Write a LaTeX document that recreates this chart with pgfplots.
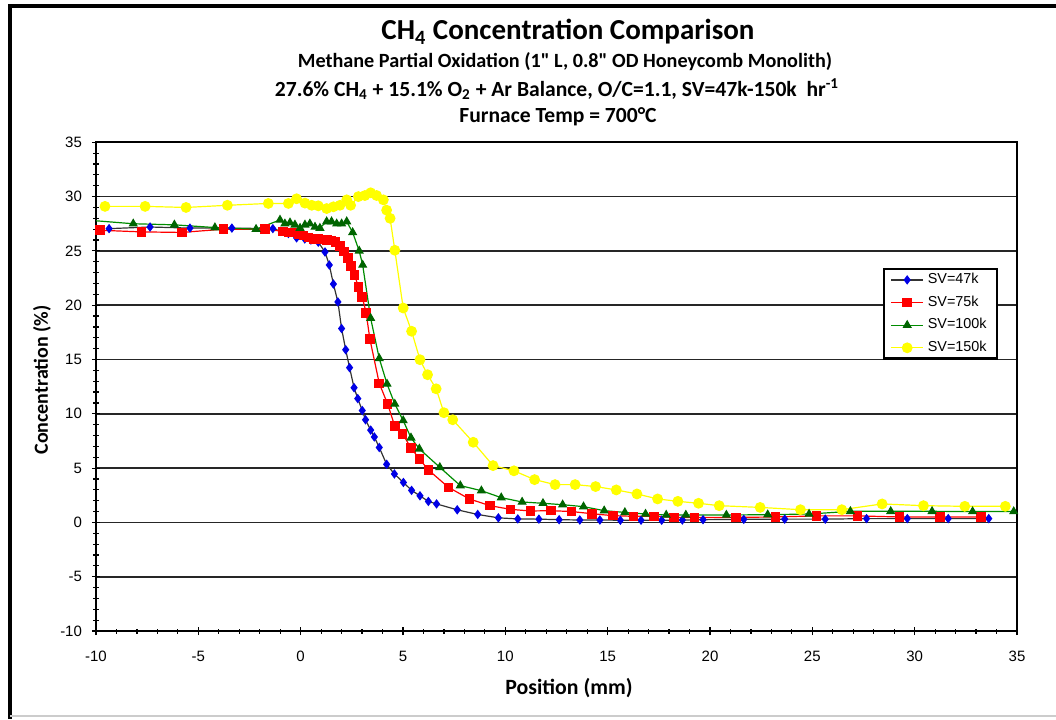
\documentclass[border=0pt]{standalone}
\usepackage{fontspec}
\setmainfont{Carlito}[Ligatures=TeXOff]
\newfontfamily\arial{Liberation Sans}
\usepackage{pgfplots}
\pgfplotsset{compat=1.18}
\definecolor{sgreen}{RGB}{0,140,0}
\definecolor{dgreen}{RGB}{0,100,0}
\definecolor{yel}{RGB}{255,255,0}
\definecolor{sblue}{RGB}{0,0,230}
\begin{document}
\begin{tikzpicture}
\path[use as bounding box] (0,0) rectangle (528pt,359.5pt);
\draw[line width=2pt] (5pt,356.5pt) -- (528pt,356.5pt);
\draw[line width=2pt] (5pt,0pt) -- (5pt,357.5pt);
\draw[gray!40,line width=1pt] (5pt,1.5pt) -- (528pt,1.5pt);
\node[font=\bfseries\fontsize{14.5}{16}\selectfont] at (284pt,343.5pt) {CH\textsubscript{4} Concentration Comparison};
\node[font=\bfseries\fontsize{10.1}{12}\selectfont] at (282.5pt,328.5pt) {Methane Partial Oxidation (1" L, 0.8" OD Honeycomb Monolith)};
\node[font=\bfseries\fontsize{10.8}{12}\selectfont] at (278.5pt,315pt) {27.6\% CH\textsubscript{4} + 15.1\% O\textsubscript{2} + Ar Balance, O/C=1.1, SV=47k-150k\ \ hr\textsuperscript{-1}};
\node[font=\bfseries\fontsize{10.8}{12}\selectfont] at (279pt,301pt) {Furnace Temp = 700°C};
\node[font=\bfseries\fontsize{10}{12}\selectfont,rotate=90] at (21pt,169.5pt) {Concentration (\%)};
\node[font=\bfseries\fontsize{10.9}{12}\selectfont] at (284.5pt,15.5pt) {Position (mm)};
\begin{axis}[
  scale only axis, width=460.5pt, height=244.35pt,
  at={(48pt,44pt)}, anchor=south west,
  xmin=-10, xmax=35, ymin=-10, ymax=35,
  xtick={-10,-5,...,35}, ytick={-10,-5,...,35},
  minor tick num=4, tick align=center, tick pos=left,
  major tick length=4pt, minor tick length=2.5pt,
  every tick/.style={black, line width=0.6pt},
  ymajorgrids, major grid style={black!85, line width=0.9pt},
  axis line style={line width=1.2pt},
  tick label style={font=\arial\fontsize{7.5}{9}\selectfont},
  /pgf/number format/assume math mode=true,
  yticklabel style={xshift=-1.5pt},
  xticklabel style={yshift=-4.5pt},
  legend image code/.code={\draw[mark repeat=2,mark phase=2] plot coordinates {(0pt,0pt) (8pt,0pt) (16pt,0pt)};},
  legend cell align=left,
  legend style={at={(0.8545,0.7428)}, anchor=north west, draw=black, line width=1.2pt,
    font=\arial\fontsize{7.2}{8}\selectfont, row sep=0.6pt, inner xsep=3.2pt, inner ysep=0pt},
]
\addplot[black!80, line width=0.6pt, mark=diamond*, mark size=1.9pt, mark options={sblue, draw=sblue}] coordinates {
(-9.36,27.05) (-7.36,27.2) (-5.41,27.1) (-3.36,27.1) (-1.36,27.05) (-0.6,26.6) (-0.2,26.2) (0.2,26.1) (0.5,26.0) (0.86,25.8)
(1.19,24.9) (1.4,23.7) (1.6,21.95) (1.82,20.3) (2.0,17.85) (2.2,15.9) (2.39,14.25) (2.61,12.4) (2.79,11.4) (3.01,10.3)
(3.17,9.45) (3.42,8.5) (3.6,7.87) (3.84,6.9) (4.2,5.35) (4.58,4.46) (5.02,3.68) (5.42,2.95) (5.83,2.45) (6.24,1.93)
(6.64,1.7) (7.65,1.16) (8.65,0.73) (9.66,0.42) (10.61,0.32) (11.64,0.3) (12.63,0.25) (13.64,0.22) (14.62,0.22) (15.62,0.2)
(16.63,0.2) (17.64,0.2) (18.65,0.22) (19.66,0.25) (21.65,0.28) (23.65,0.3) (25.63,0.3) (27.65,0.35) (29.64,0.35) (31.64,0.35) (33.62,0.35)
};
\addlegendentry{SV=47k}
\addplot[red, line width=0.6pt, mark=square*, mark size=2.1pt, mark options={red}] coordinates {
(-9.8,26.9) (-7.77,26.75) (-5.8,26.7) (-3.78,27.0) (-1.74,27.0) (-0.85,26.8) (-0.6,26.7) (-0.36,26.7) (-0.1,26.5) (0.13,26.4)
(0.38,26.25) (0.62,26.1) (0.86,26.1) (1.1,26.05) (1.3,26.0) (1.5,25.95) (1.7,25.8) (1.92,25.45) (2.12,24.95) (2.3,24.35)
(2.47,23.6) (2.63,22.8) (2.82,21.7) (3.01,20.75) (3.2,19.3) (3.38,16.9) (3.84,12.8) (4.25,10.9) (4.6,8.85) (4.98,8.15)
(5.39,6.86) (5.8,5.85) (6.24,4.83) (7.22,3.23) (8.24,2.16) (9.25,1.54) (10.26,1.2) (11.23,1.05) (12.23,1.08) (13.23,1.0)
(14.24,0.8) (15.25,0.62) (16.26,0.56) (17.27,0.56) (18.23,0.46) (19.24,0.46) (21.26,0.46) (23.2,0.5) (25.2,0.6) (27.2,0.6)
(29.25,0.5) (31.24,0.5) (33.25,0.5)
};
\addlegendentry{SV=75k}
\addplot[sgreen, line width=0.6pt, mark=triangle*, mark size=2.1pt, mark options={dgreen}] coordinates {
(-10.18,27.8) (-8.18,27.5) (-6.17,27.4) (-4.19,27.15) (-2.18,27.0) (-1.01,27.85) (-0.77,27.5) (-0.52,27.6) (-0.28,27.4) (-0.03,27.1)
(0.21,27.4) (0.45,27.5) (0.7,27.2) (0.94,27.1) (1.27,27.7) (1.51,27.7) (1.76,27.5) (2.0,27.5) (2.25,27.7) (2.54,26.7)
(2.86,25.0) (3.03,23.7) (3.42,18.8) (3.84,15.1) (4.22,12.75) (4.6,10.9) (5.01,9.38) (5.39,7.79) (5.8,6.77) (6.8,5.07)
(7.8,3.39) (8.83,2.92) (9.8,2.28) (10.82,1.88) (11.84,1.76) (12.8,1.63) (13.82,1.45) (14.83,1.08) (15.84,0.92) (16.85,0.77)
(17.86,0.68) (18.82,0.68) (20.8,0.68) (22.82,0.71) (24.84,0.77) (26.86,1.02) (28.83,1.02) (30.85,1.02) (32.83,1.0) (34.84,1.0)
};
\addlegendentry{SV=100k}
\addplot[yel, line width=0.6pt, mark=*, mark size=2.4pt, mark options={yel}] coordinates {
(-9.56,29.1) (-7.6,29.1) (-5.6,29.0) (-3.58,29.2) (-1.58,29.37) (-0.6,29.37) (-0.2,29.8) (0.21,29.4) (0.54,29.2) (0.86,29.15)
(1.27,28.9) (1.6,29.06) (1.92,29.2) (2.25,29.7) (2.44,29.2) (2.82,30.0) (3.14,30.1) (3.42,30.35) (3.71,30.1) (4.04,29.7)
(4.2,28.75) (4.37,28.0) (4.6,25.06) (5.01,19.74) (5.42,17.6) (5.83,14.98) (6.2,13.6) (6.62,12.3) (7.0,10.1) (7.43,9.45)
(8.43,7.38) (9.4,5.23) (10.42,4.75) (11.43,3.94) (12.43,3.48) (13.41,3.48) (14.41,3.3) (15.42,2.99) (16.43,2.62) (17.44,2.16)
(18.43,1.94) (19.44,1.76) (20.45,1.54) (22.45,1.38) (24.42,1.17) (26.44,1.17) (28.41,1.7) (30.43,1.54) (32.45,1.48) (34.43,1.48)
};
\addlegendentry{SV=150k}
\end{axis}
\end{tikzpicture}
\end{document}
